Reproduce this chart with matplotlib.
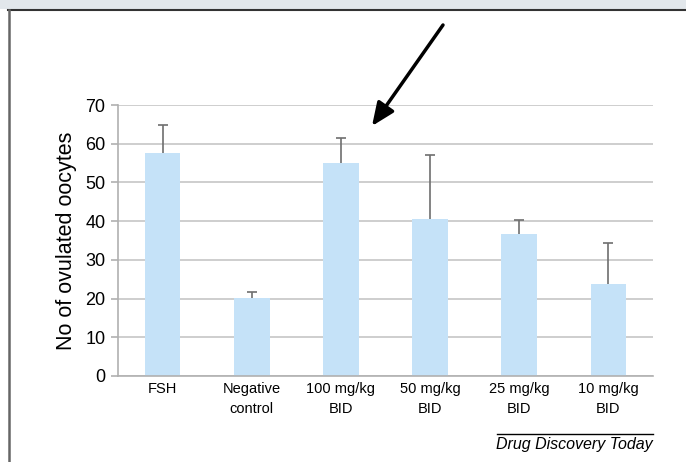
import matplotlib.pyplot as plt
import numpy as np
from matplotlib.lines import Line2D
from matplotlib.patches import Rectangle, FancyArrowPatch

# data
groups = ['FSH', 'Negative\ncontrol', '100 mg/kg\nBID', '50 mg/kg\nBID', '25 mg/kg\nBID', '10 mg/kg\nBID']
means = [57.6, 20.1, 55.0, 40.6, 36.7, 23.8]
upper_err = [7.2, 1.5, 6.5, 16.4, 3.5, 10.6]

plt.rcParams['font.family'] = ['Liberation Sans', 'DejaVu Sans']

fig = plt.figure(figsize=(6.86, 4.62), dpi=100)

# top band and frame
fig.patches.append(Rectangle((0, 1 - 9/462), 1, 9/462, transform=fig.transFigure,
                             facecolor='#e2e7eb', edgecolor='none', zorder=0))
fig.lines.append(Line2D([8/686, 1], [1 - 9.5/462, 1 - 9.5/462], transform=fig.transFigure,
                        color='#333333', lw=1.5))
fig.lines.append(Line2D([8.5/686, 8.5/686], [0, 1 - 9.5/462], transform=fig.transFigure,
                        color='#666666', lw=1.8))

ax = fig.add_axes([118/686, 1 - 376/462, (653 - 118)/686, (376 - 105)/462])
x = np.arange(len(groups))
ax.bar(x, means, width=0.4, color='#c5e2f8', zorder=2)
# upper error bars only
tops = np.array(means) + np.array(upper_err)
ax.vlines(x, means, tops, color='#6e6e6e', lw=1.2, zorder=3)
ax.plot(x, tops, ls='none', marker='_', ms=7, mew=1.2, color='#6e6e6e', zorder=3)

ax.set_xlim(-0.5, len(groups) - 0.5)
ax.set_ylim(0, 70)
ax.set_yticks(range(0, 71, 10))
ax.yaxis.grid(True, color='#c6c6c6', lw=1.2, zorder=0)
ax.set_axisbelow(True)
ax.set_xticks(x)
ax.set_xticklabels(groups, fontsize=10.5, linespacing=1.55)
ax.tick_params(axis='x', length=0, pad=4)
ax.tick_params(axis='y', labelsize=13, length=5, color='#b0b0b0', width=1.2, pad=4)
for s in ['top', 'right']:
    ax.spines[s].set_visible(False)
ax.spines['left'].set_color('#b0b0b0')
ax.spines['bottom'].set_color('#b0b0b0')
ax.spines['left'].set_linewidth(1.2)
ax.spines['bottom'].set_linewidth(1.2)
ax.set_ylabel('No of ovulated oocytes', fontsize=15.5, labelpad=6)

# arrow pointing at 100 mg/kg bar
fig.patches.append(FancyArrowPatch(
    (443/686, 1 - 25/462), (372/686, 1 - 126/462), transform=fig.transFigure,
    arrowstyle='-|>,head_length=14,head_width=6', color='black', lw=2.5,
    shrinkA=0, shrinkB=0))

# journal footer
fig.lines.append(Line2D([497/686, 653/686], [1 - 434/462, 1 - 434/462],
                        transform=fig.transFigure, color='black', lw=1))
fig.text(653/686, 1 - 445/462, 'Drug Discovery Today', ha='right', va='center',
         fontsize=11.5, style='italic')

fig.savefig('out.png', dpi=100)
